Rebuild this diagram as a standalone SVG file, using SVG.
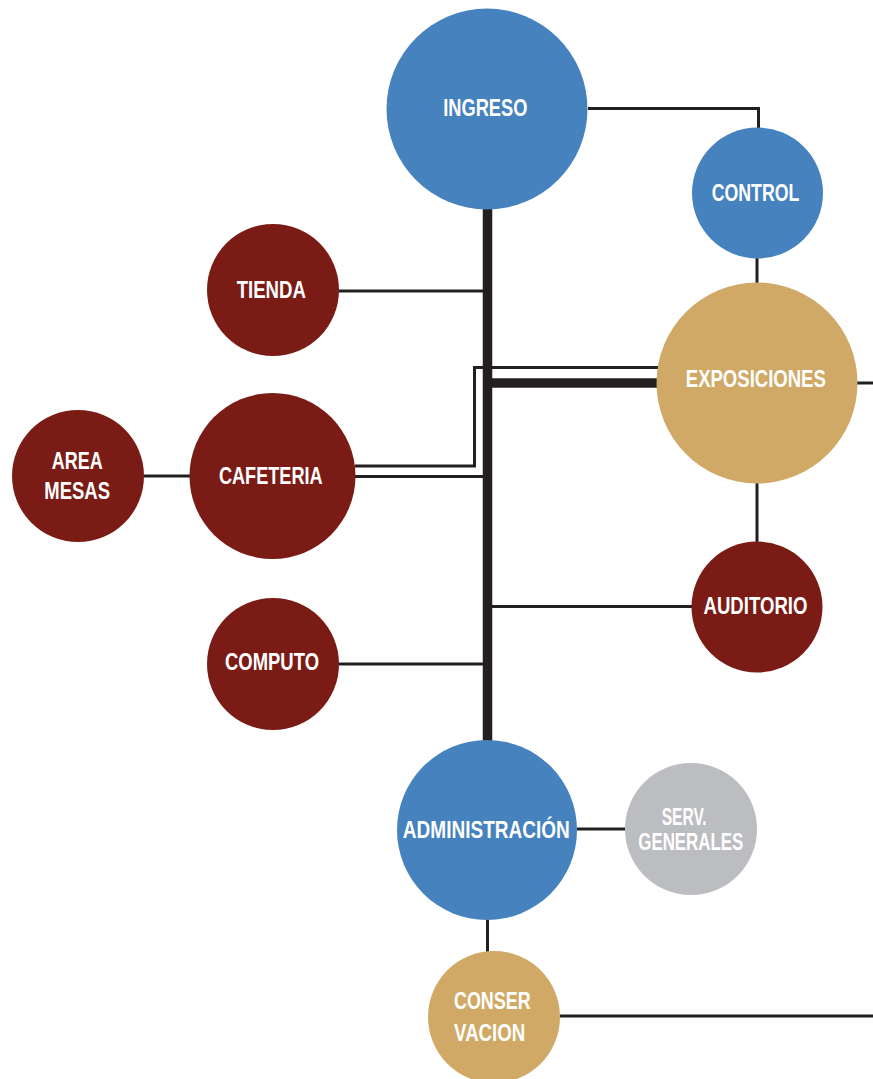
<svg xmlns="http://www.w3.org/2000/svg" width="873" height="1079" viewBox="0 0 873 1079">
<style>
.blue{fill:#4682bd}.red{fill:#7a1c15}.tan{fill:#d1a966}.gray{fill:#bcbdc0}
text{font-family:"Liberation Sans",Arial,sans-serif;font-weight:bold;font-size:24px;fill:#fff;text-anchor:middle}
.ln{fill:none;stroke:#231f20;stroke-width:3}
.thick{fill:none;stroke:#231f20;stroke-width:9.5}
</style>
<rect width="873" height="1079" fill="#fff"/>
<g id="connectors">
<path class="ln" d="M588,108.5 H758.5 V128"/>
<path class="ln" d="M757,258 V284"/>
<path class="ln" d="M857,383 H873"/>
<path class="ln" d="M757,483 V542"/>
<path class="ln" d="M339,291 H487"/>
<path class="ln" d="M144,476 H190"/>
<path class="ln" d="M355,466 H474.5 V367.5 H658"/>
<path class="ln" d="M355,476.5 H487"/>
<path class="ln" d="M339,664 H487"/>
<path class="ln" d="M487,606.5 H692"/>
<path class="ln" d="M577,829 H625"/>
<path class="ln" d="M487.5,920 V952"/>
<path class="ln" d="M560,1016 H873"/>
<path class="thick" d="M487.5,205 V742"/>
<path class="thick" d="M487,383 H657"/>
</g>
<g id="ingreso"><circle class="blue" cx="487" cy="109" r="100.5"/><text x="485.3" y="115.7" textLength="84" lengthAdjust="spacingAndGlyphs">INGRESO</text></g>
<g id="control"><circle class="blue" cx="757.5" cy="193" r="65.5"/><text x="755.5" y="200.7" textLength="87.7" lengthAdjust="spacingAndGlyphs">CONTROL</text></g>
<g id="exposiciones"><circle class="tan" cx="757" cy="383" r="100.5"/><text x="755.8" y="387.3" textLength="140" lengthAdjust="spacingAndGlyphs">EXPOSICIONES</text></g>
<g id="tienda"><circle class="red" cx="273" cy="290" r="66"/><text x="271.3" y="298.3" textLength="69.3" lengthAdjust="spacingAndGlyphs">TIENDA</text></g>
<g id="cafeteria"><circle class="red" cx="272.5" cy="476" r="83"/><text x="270.8" y="484" textLength="103.7" lengthAdjust="spacingAndGlyphs">CAFETERIA</text></g>
<g id="area-mesas"><circle class="red" cx="78" cy="476" r="66"/><text x="77.2" y="469" textLength="51" lengthAdjust="spacingAndGlyphs">AREA</text><text x="77.2" y="499.3" textLength="65.7" lengthAdjust="spacingAndGlyphs">MESAS</text></g>
<g id="computo"><circle class="red" cx="273" cy="664" r="66"/><text x="272" y="669.5" textLength="94" lengthAdjust="spacingAndGlyphs">COMPUTO</text></g>
<g id="auditorio"><circle class="red" cx="757" cy="607" r="65.5"/><text x="755.5" y="614.3" textLength="104" lengthAdjust="spacingAndGlyphs">AUDITORIO</text></g>
<g id="administracion"><circle class="blue" cx="487" cy="830" r="90"/><text x="486.3" y="838.3" textLength="167" lengthAdjust="spacingAndGlyphs">ADMINISTRACIÓN</text></g>
<g id="serv-generales"><circle class="gray" cx="691" cy="829" r="66"/><text x="684.2" y="825" textLength="45" lengthAdjust="spacingAndGlyphs">SERV.</text><text x="690.8" y="850" textLength="105" lengthAdjust="spacingAndGlyphs">GENERALES</text></g>
<g id="conservacion"><circle class="tan" cx="494" cy="1017" r="66"/><text x="492.3" y="1009.3" textLength="76.7" lengthAdjust="spacingAndGlyphs">CONSER</text><text x="489.7" y="1041" textLength="71.3" lengthAdjust="spacingAndGlyphs">VACION</text></g>
</svg>
